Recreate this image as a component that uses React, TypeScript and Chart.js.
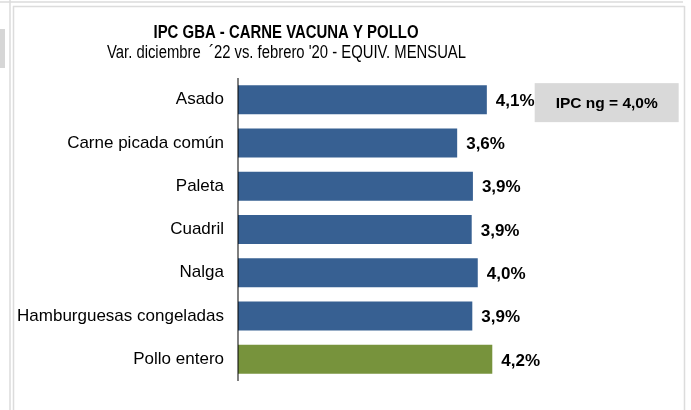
import React, { useEffect, useRef } from "react";
import { Chart, registerables } from "chart.js";

Chart.register(...registerables);

const TITLE = "IPC GBA - CARNE VACUNA Y POLLO";
const SUBTITLE = "Var. diciembre  \u00B422 vs. febrero '20 - EQUIV. MENSUAL";
const CATEGORIES = [
  "Asado",
  "Carne picada común",
  "Paleta",
  "Cuadril",
  "Nalga",
  "Hamburguesas congeladas",
  "Pollo entero",
];
const VALUES = [4.11, 3.62, 3.88, 3.86, 3.96, 3.87, 4.2];
const BAR_COLORS = ["#376092", "#376092", "#376092", "#376092", "#376092", "#376092", "#77933C"];
const IPC_NG = 4.0;
const IPC_LABEL = "IPC ng = ";

const FONT = "'Liberation Sans', Arial, Helvetica, sans-serif";

const fmt = (v: number) => v.toFixed(1).replace(".", ",") + "%";

function drawFitted(ctx: CanvasRenderingContext2D, text: string, cx: number, y: number, width: number) {
  const natural = ctx.measureText(text).width;
  ctx.save();
  ctx.translate(cx, y);
  ctx.scale(width / natural, 1);
  ctx.textAlign = "center";
  ctx.fillText(text, 0, 0);
  ctx.restore();
}

const decorPlugin = {
  id: "decor",
  beforeDraw(chart: any) {
    const ctx = chart.ctx as CanvasRenderingContext2D;
    ctx.save();
    ctx.fillStyle = "#ffffff";
    ctx.fillRect(0, 0, chart.width, chart.height);
    // page frame lines
    ctx.strokeStyle = "#dcdcdc";
    ctx.lineWidth = 1.5;
    ctx.beginPath();
    ctx.moveTo(0, 2);
    ctx.lineTo(683, 2);
    ctx.moveTo(13, 6.5);
    ctx.lineTo(684.5, 6.5);
    ctx.moveTo(10, 0);
    ctx.lineTo(10, 410);
    ctx.moveTo(13.5, 6);
    ctx.lineTo(13.5, 410);
    ctx.moveTo(684.5, 6);
    ctx.lineTo(684.5, 410);
    ctx.stroke();
    ctx.fillStyle = "#d6d6d6";
    ctx.fillRect(0, 29, 5, 39);
    // titles
    ctx.fillStyle = "#000000";
    ctx.textBaseline = "alphabetic";
    ctx.font = `bold 18px ${FONT}`;
    drawFitted(ctx, TITLE, 286, 38, 265);
    ctx.font = `18px ${FONT}`;
    drawFitted(ctx, SUBTITLE, 286.5, 57.5, 359);
    ctx.restore();
  },
  afterDatasetsDraw(chart: any) {
    const ctx = chart.ctx as CanvasRenderingContext2D;
    const area = chart.chartArea;
    const meta = chart.getDatasetMeta(0);
    const xs = chart.scales.x;
    const ys = chart.scales.y;
    ctx.save();
    // axis line
    ctx.strokeStyle = "rgba(0,0,0,0.5)";
    ctx.lineWidth = 2;
    ctx.beginPath();
    ctx.moveTo(area.left, area.top);
    ctx.lineTo(area.left, area.bottom);
    ctx.stroke();
    // value labels
    ctx.fillStyle = "#000000";
    ctx.font = `bold 17px ${FONT}`;
    ctx.textAlign = "left";
    ctx.textBaseline = "middle";
    meta.data.forEach((bar: any, i: number) => {
      ctx.fillText(fmt(VALUES[i]), bar.x + 9, bar.y + 1.5);
    });
    // annotation box
    const bx = xs.getPixelForValue(4.9);
    const bw = 144;
    const cy = ys.getPixelForValue(0) + 3;
    const bh = 39;
    ctx.fillStyle = "#d9d9d9";
    ctx.fillRect(bx, cy - bh / 2, bw, bh);
    ctx.fillStyle = "#000000";
    ctx.font = `bold 15.5px ${FONT}`;
    ctx.textAlign = "center";
    ctx.fillText(IPC_LABEL + fmt(IPC_NG), bx + bw / 2, cy + 1);
    ctx.restore();
  },
};

export default function App() {
  const ref = useRef<HTMLCanvasElement | null>(null);
  useEffect(() => {
    if (!ref.current) return;
    const chart = new Chart(ref.current, {
      type: "bar",
      data: {
        labels: CATEGORIES,
        datasets: [
          {
            data: VALUES,
            backgroundColor: BAR_COLORS,
            borderWidth: 0,
            barPercentage: 0.67,
            categoryPercentage: 1,
          },
        ],
      },
      options: {
        indexAxis: "y",
        responsive: false,
        animation: false,
        devicePixelRatio: 1,
        layout: { padding: { top: 78, bottom: 29, left: 0, right: 120 } },
        plugins: {
          legend: { display: false },
          tooltip: { enabled: false },
          title: { display: false },
        },
        scales: {
          x: { display: false, min: 0, max: 5.5 },
          y: {
            grid: { display: false, drawTicks: false },
            border: { display: false },
            ticks: {
              color: "#000000",
              font: { family: FONT, size: 17 },
              padding: 14,
            },
            afterFit(scale: any) {
              scale.width = 238;
            },
          },
        },
      } as any,
      plugins: [decorPlugin],
    });
    return () => chart.destroy();
  }, []);
  return (
    <div style={{ position: "fixed", left: 0, top: 0, width: 691, height: 410, background: "#fff" }}>
      <canvas ref={ref} width={691} height={410} style={{ width: 691, height: 410, display: "block" }} />
    </div>
  );
}
